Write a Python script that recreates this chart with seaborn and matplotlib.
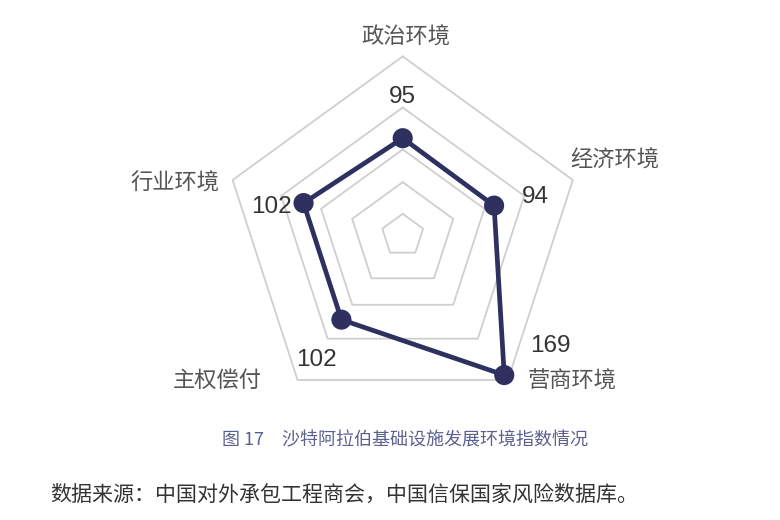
import numpy as np
import pandas as pd
import matplotlib
matplotlib.use('Agg')
import matplotlib.pyplot as plt
import seaborn as sns

categories = ['政治环境', '经济环境', '营商环境', '主权偿付', '行业环境']
values = [95, 94, 169, 102, 102]
ring_levels = [21, 52, 84, 125, 175]

# label placement (theta in degrees clockwise from top, radius in data units)
cat_label_pos = [(1, 194), (70.5, 220), (130.8, 219), (232, 230), (283, 229)]
val_label_pos = [(0, 135), (73.8, 135), (126.9, 181), (214.6, 148), (282.1, 131)]

caption = '图 17\u3000沙特阿拉伯基础设施发展环境指数情况'
source = '数据来源：中国对外承包工程商会，中国信保国家风险数据库。'

sns.set_theme(style='white')
plt.rcParams['font.family'] = ['Noto Sans CJK SC', 'DejaVu Sans']

line_color = '#2e3160'
grid_color = '#cfcfcf'

n = len(categories)
angles = np.linspace(0, 2 * np.pi, n, endpoint=False)
angles_closed = np.append(angles, angles[0] + 2 * np.pi)

fig = plt.figure(figsize=(7.8, 5.2), dpi=100)
ax = fig.add_axes([0.2868, 0.2035, 0.459, 0.688], projection='polar')
ax.set_theta_offset(np.pi / 2)
ax.set_theta_direction(-1)
ax.set_facecolor('none')

for lvl in ring_levels:
    ax.plot(angles_closed, [lvl] * (n + 1), color=grid_color, lw=1.3, zorder=1)

df = pd.DataFrame({'theta': angles_closed, 'r': values + values[:1]})
sns.lineplot(data=df, x='theta', y='r', sort=False, estimator=None,
             color=line_color, lw=3.4, ax=ax, zorder=3)
sns.scatterplot(data=df.iloc[:-1], x='theta', y='r', color=line_color,
                s=210, edgecolor='none', ax=ax, zorder=4, legend=False)
for art in ax.lines + ax.collections:
    art.set_clip_on(False)

ax.set_xlabel('')
ax.set_ylabel('')
ax.grid(False)
ax.set_xticks([])
ax.set_yticks([])
ax.set_ylim(0, 175)
ax.spines['polar'].set_visible(False)

for cat, (t, r) in zip(categories, cat_label_pos):
    ax.text(np.deg2rad(t), r, cat, ha='center', va='center', fontsize=16,
            color='#555555', clip_on=False)

for v, (t, r) in zip(values, val_label_pos):
    ax.text(np.deg2rad(t), r, str(v), ha='center', va='center', fontsize=17.5,
            color='#333333', family=['Liberation Sans', 'DejaVu Sans'],
            clip_on=False, zorder=5)

fig.text(0.2846, 1 - 440 / 520, caption, ha='left', va='center',
         fontsize=13, color='#5b6090')
fig.text(0.064, 1 - 495 / 520, source, ha='left', va='center',
         fontsize=15.1, color='#333333')

fig.savefig('out.png', dpi=100)
